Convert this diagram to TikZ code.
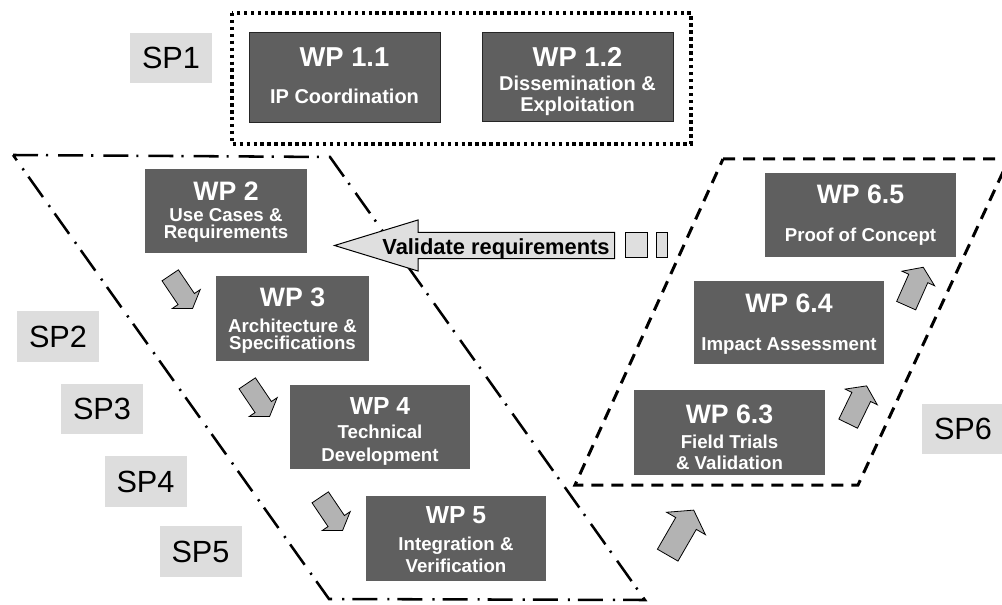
\documentclass[tikz,border=0pt]{standalone}
\usepackage{fontspec}
\setmainfont{Liberation Sans}
\usetikzlibrary{shapes.arrows,fit}

\definecolor{wpfill}{RGB}{95,95,95}
\definecolor{spfill}{RGB}{221,221,221}
\definecolor{flowfill}{RGB}{179,179,179}
\definecolor{notefill}{RGB}{223,223,223}

% font switches for the work-package texts
\newcommand\fTitle{\bfseries\fontsize{20pt}{24pt}\selectfont}
\newcommand\fTitleSm{\bfseries\fontsize{18.5pt}{22pt}\selectfont}
\newcommand\fTitleLg{\bfseries\fontsize{20.5pt}{24pt}\selectfont}
\newcommand\fSub{\bfseries\fontsize{14pt}{17pt}\selectfont}
\newcommand\fSubLg{\bfseries\fontsize{15pt}{18pt}\selectfont}

\tikzset{
  wpbox/.style={fill=wpfill, draw=none, inner sep=0pt},
  wpframed/.style={wpbox, draw=black!85, line width=0.6pt},
  wpline/.style={text=white, inner sep=0pt, anchor=base},
  spbox/.style={fill=spfill, inner sep=0pt, minimum width=61.5pt, minimum height=38pt,
    font=\fontsize{23pt}{27pt}\selectfont},
  % block arrows: shaft width = 2 * inner ysep
  flowdown/.style={single arrow, draw=black, line width=0.6pt, fill=flowfill,
    inner xsep=0pt, inner ysep=7.1pt,
    anchor=tail, minimum height=30pt, minimum width=24.75pt,
    single arrow head extend=5.25pt, single arrow tip angle=112},
  flowup/.style={flowdown, inner ysep=7.5pt, minimum height=31.5pt, minimum width=26.25pt,
    single arrow head extend=5.6pt, single arrow tip angle=111},
  flowbig/.style={flowdown, inner ysep=8.6pt, minimum height=39pt, minimum width=33pt,
    single arrow head extend=7.9pt, single arrow tip angle=111},
  notearrow/.style={single arrow, draw=black, line width=0.75pt, fill=notefill,
    inner xsep=0pt, inner ysep=9.4pt,
    anchor=tail, minimum height=210pt, minimum width=37.5pt,
    single arrow head extend=9.4pt, single arrow tip angle=34},
  notebox/.style={fill=notefill, draw=black, line width=0.75pt, inner sep=0pt},
  dotframe/.style={draw=black, line width=2.4pt, dash pattern=on 2.6pt off 2.6pt},
  dashdotframe/.style={draw=black, line width=1.9pt,
    dash pattern=on 18.75pt off 6pt on 1.6pt off 7.5pt},
  dashframe/.style={draw=black, line width=2.25pt, dash pattern=on 9pt off 6pt},
}

% work package: name, box style, left, top, right, bottom, {font/baseline/text, ...}
\newcommand\wpunit[7]{%
  \node[#2, fit={(#3,#4) (#5,#6)}] (#1) {};
  \foreach \lfont/\lbase/\ltext [count=\li] in {#7}
    \node[wpline] (#1-\li) at ({(#3+#5)/2},\lbase) {\lfont\ltext};
}

\begin{document}
\begin{tikzpicture}[x=0.75pt, y=-0.75pt]
\useasboundingbox (0,0) rectangle (1002,605);

% sub-project frames
\draw[dotframe] (232,13) rectangle (691,144);
\draw[dashdotframe] (13,155) -- (330,157) -- (645,600) -- (329,599) -- cycle;
\draw[dashframe] (723,159) -- (1009,159) -- (858,485) -- (575,485) -- cycle;

% sub-project labels
\node[spbox] (sp1) at (171,58) {SP1};
\node[spbox] (sp2) at (58,336.5) {SP2};
\node[spbox] (sp3) at (102,409) {SP3};
\node[spbox] (sp4) at (145.5,481.5) {SP4};
\node[spbox] (sp5) at (200.5,551.5) {SP5};
\node[spbox] (sp6) at (963,429) {SP6};

% work packages
\wpunit{wp11}{wpframed}{249}{32}{440}{122}{\fTitleLg/67/WP 1.1, \fSubLg/104/IP Coordination}
\wpunit{wp12}{wpframed}{482}{32}{673}{121}{\fTitleLg/67/WP 1.2, \fSubLg/91/Dissemination \&, \fSubLg/112/Exploitation}
\wpunit{wp2}{wpbox}{145}{169}{307}{253}{\fTitle/201/WP 2, \fSub/222/Use Cases \&, \fSub/239/Requirements}
\wpunit{wp3}{wpbox}{216}{276}{369}{361}{\fTitle/307/WP 3, \fSub/333/Architecture \&, \fSub/350/Specifications}
\wpunit{wp4}{wpbox}{290}{385}{470}{469}{\fTitleSm/415/WP 4, \fSub/438/Technical, \fSub/461/Development}
\wpunit{wp5}{wpbox}{366}{496}{546}{581}{\fTitleSm/523/WP 5, \fSub/550/Integration \&, \fSub/572/Verification}
\wpunit{wp65}{wpbox}{765}{173}{956}{257}{\fTitle/204/WP 6.5, \fSub/242/Proof of Concept}
\wpunit{wp64}{wpbox}{694}{281}{884}{364}{\fTitle/313/WP 6.4, \fSub/351/Impact Assessment}
\wpunit{wp63}{wpbox}{634}{390}{825}{475}{\fTitle/423/WP 6.3, \fSub/448/Field Trials, \fSub/469/\& Validation}

% flow between work packages
\node[flowdown, rotate=-56] (f23) at (170,275) {};
\node[flowdown, rotate=-56] (f34) at (247,383) {};
\node[flowdown, rotate=-56] (f45) at (320,497) {};
\node[flowbig, rotate=60] (f563) at (667.5,555.5) {};
\node[flowup, rotate=64] (f6364) at (848,424) {};
\node[flowup, rotate=66] (f6465) at (906,306) {};

% feedback arrow
\node[notearrow, rotate=180] (valid) at (615,245.5) {};
\node[inner sep=0pt, anchor=base, font=\bfseries\fontsize{16.4pt}{20pt}\selectfont]
  (validtxt) at (496,255) {Validate requirements};
\node[notebox, fit={(625,233) (647,258)}] (vb1) {};
\node[notebox, fit={(656,233) (667,258)}] (vb2) {};
\end{tikzpicture}
\end{document}
